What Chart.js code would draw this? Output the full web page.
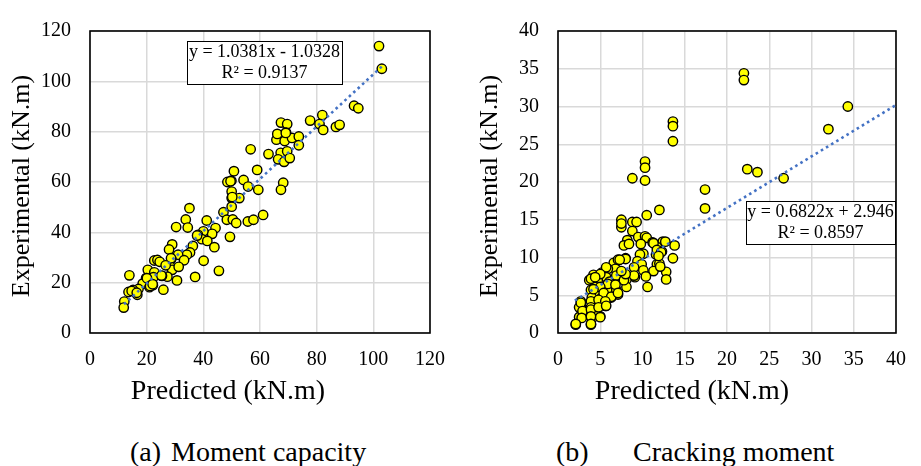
<!DOCTYPE html>
<html><head><meta charset="utf-8">
<script src="https://cdn.jsdelivr.net/npm/chart.js@4.4.1/dist/chart.umd.min.js"></script>
<style>
html,body{margin:0;padding:0;background:#fff;width:921px;height:466px;overflow:hidden;}
canvas{position:absolute;top:0;}
#c1{left:0;}
#c2{left:460px;}
.cap{position:absolute;font-family:"Liberation Serif","DejaVu Serif",serif;font-size:28px;color:#000;line-height:28px;white-space:pre;}
</style></head><body>
<canvas id="c1" width="460" height="420" style="width:460px;height:420px"></canvas>
<canvas id="c2" width="461" height="420" style="width:461px;height:420px"></canvas>
<div class="cap" style="left:130px;top:438px;">(a)</div>
<div class="cap" style="left:171px;top:438px;">Moment capacity</div>
<div class="cap" style="left:556px;top:438px;">(b)</div>
<div class="cap" style="left:633px;top:438px;">Cracking moment</div>
<script>
// ---------- (a) Moment capacity ----------
const momentPredicted = [102.0,103.0,93.2,94.7,77.7,82.0,81.0,82.3,86.8,88.1,67.4,69.6,69.2,66.4,65.8,68.7,71.3,73.7,73.7,56.7,63.0,67.3,69.6,66.4,68.5,70.5,50.8,59.0,48.5,49.9,54.2,55.8,68.2,59.4,50.0,67.4,50.0,52.7,50.0,47.1,35.1,33.8,34.5,30.4,41.2,48.3,50.4,51.6,55.7,57.7,61.1,49.4,44.3,43.1,40.0,38.1,39.5,41.4,43.9,36.3,29.0,27.9,35.3,34.2,31.1,33.2,40.1,45.5,28.7,22.7,23.8,24.6,28.2,29.0,31.3,20.4,22.7,27.3,25.4,30.7,37.1,13.9,19.8,22.4,18.6,22.2,21.0,25.9,17.1,15.2,13.6,14.7,16.7,12.1,11.9,28.6,26.7,25.2,20.1,21.2,22.1,37.8,16.5,49.6,50.2,66.1,69.1];
const momentExperimental = [114.0,105.0,90.3,89.3,84.4,86.6,83.0,80.7,81.9,82.7,83.6,83.0,79.6,78.5,76.8,76.3,77.5,78.1,74.6,73.0,71.1,71.6,72.2,69.0,68.0,69.5,64.3,64.8,60.0,60.5,60.8,58.2,59.7,56.9,56.2,56.9,53.6,53.6,50.2,48.0,49.6,45.1,41.9,42.1,44.7,45.0,45.1,43.7,44.3,45.0,46.9,38.2,41.7,39.4,40.4,39.0,37.3,36.6,34.1,34.6,35.2,33.2,32.0,31.1,31.1,28.9,28.7,24.7,29.4,28.8,29.0,28.3,26.6,25.1,26.3,25.1,24.1,22.4,22.7,20.9,22.3,22.9,21.8,22.2,19.6,19.0,18.2,17.2,17.5,17.1,16.3,16.7,15.2,12.5,10.1,29.7,26.9,22.8,21.8,18.7,19.4,38.7,16.0,60.3,54.0,79.1,79.5];
const momentTrendX = [12.0, 103.0];
const momentTrendY = [11.4, 105.9];
const momentTicks = [0,20,40,60,80,100,120];

// ---------- (b) Cracking moment ----------
const crackPredicted = [22.0,22.0,34.3,32.0,13.6,13.6,13.6,10.3,10.3,8.8,10.3,22.4,23.6,26.7,17.4,17.4,12.0,10.5,7.5,7.5,7.5,8.8,9.3,8.8,9.5,10.3,10.5,11.2,12.4,12.7,13.8,8.2,7.8,8.4,9.8,11.7,12.3,11.6,10.1,9.7,13.6,11.7,12.0,9.4,9.9,8.0,9.0,10.1,11.3,12.8,12.8,10.4,10.6,9.1,8.1,8.1,7.1,6.6,6.8,5.9,5.2,5.7,4.2,3.7,4.7,7.1,6.1,6.7,5.4,4.4,4.6,3.9,5.9,6.9,7.1,6.3,5.7,5.1,4.0,3.9,5.0,5.6,4.6,3.9,2.7,2.7,2.8,3.9,5.0,2.5,2.1,3.9,2.5,3.5,4.4,4.0,8.0,7.1,5.7,5.0,3.9,4.4,6.9,7.8,9.0,5.9,6.8,5.0,4.2,5.4,6.3,7.1,4.8,5.6,2.7,2.9,3.9,4.8,5.7,2.8,3.9,5.0,2.1,3.9,11.3,11.7,12.2,11.9,7.3,8.0,7.5,12.1];
const crackExperimental = [34.4,33.5,30.0,27.0,28.0,27.4,25.4,22.7,21.9,20.5,20.2,21.7,21.3,20.5,19.0,16.5,16.3,15.6,15.0,14.0,14.5,14.7,14.7,13.5,12.7,12.8,12.6,12.0,12.1,12.1,11.6,12.3,11.6,11.8,11.8,11.4,10.8,10.4,10.5,10.4,9.9,9.1,9.2,9.5,9.1,9.9,8.7,8.3,8.2,8.1,7.1,7.5,6.1,7.4,7.1,6.1,9.6,9.3,8.5,8.5,8.0,7.4,7.7,7.0,7.0,7.2,6.8,6.5,6.1,6.1,5.5,5.7,5.5,5.7,5.1,4.7,4.4,4.6,4.7,4.2,4.0,3.6,3.4,3.4,4.2,3.6,2.9,2.3,2.2,2.1,1.1,1.1,3.4,2.7,2.9,1.9,9.8,9.7,8.7,7.8,7.2,7.4,7.6,7.0,7.6,6.5,6.4,6.1,5.8,5.3,4.8,5.3,4.4,4.2,4.0,2.9,3.1,3.4,3.6,2.0,2.2,2.1,1.2,1.2,11.9,11.0,10.7,10.2,9.7,7.8,8.2,8.8];
const crackTrendX = [2.0, 40.0];
const crackTrendY = [4.3, 30.2];
const crackTicks = [0,5,10,15,20,25,30,35,40];

const SERIF = '"Liberation Serif", "DejaVu Serif", serif';

function pts(xs, ys){ return xs.map((x,i)=>({x:x, y:ys[i]})); }

const decor = {
  id: 'decor',
  beforeDatasetsDraw(chart, args, o) {
    const {ctx, chartArea:a} = chart;
    ctx.save();
    ctx.strokeStyle = '#000'; ctx.lineWidth = 1.6;
    ctx.strokeRect(a.left, a.top, a.right - a.left, a.bottom - a.top);
    ctx.restore();
  },
  afterDraw(chart, args, o) {
    const ctx = chart.ctx;
    ctx.save();
    ctx.fillStyle = '#000';
    ctx.textAlign = 'center'; ctx.textBaseline = 'middle';
    ctx.font = o.xTitleFont;
    ctx.fillText(o.xTitle, o.xTitleAt[0], o.xTitleAt[1]);
    ctx.font = o.yTitleFont;
    ctx.translate(o.yTitleAt[0], o.yTitleAt[1]);
    ctx.rotate(-Math.PI/2);
    ctx.fillText(o.yTitle, 0, 0);
    ctx.restore();
    const b = o.eqBox;
    ctx.save();
    ctx.fillStyle = '#fff';
    ctx.fillRect(b[0], b[1], b[2]-b[0], b[3]-b[1]);
    ctx.strokeStyle = '#000'; ctx.lineWidth = 1;
    ctx.strokeRect(b[0]+0.5, b[1]+0.5, b[2]-b[0], b[3]-b[1]);
    ctx.fillStyle = '#000';
    ctx.font = o.eqFont;
    ctx.textAlign = 'center'; ctx.textBaseline = 'middle';
    const cx = (b[0]+b[2])/2;
    ctx.fillText(o.eqLines[0], cx, b[1] + (b[3]-b[1])*0.27);
    ctx.fillText(o.eqLines[1], cx, b[1] + (b[3]-b[1])*0.75);
    ctx.restore();
  }
};

function makeChart(id, cfg) {
  return new Chart(document.getElementById(id), {
    type: 'scatter',
    data: {
      datasets: [
        {
          type: 'line',
          data: pts(cfg.trendX, cfg.trendY),
          borderColor: '#4472C4', borderWidth: 2.6, borderDash: [2.6, 3.4],
          pointRadius: 0, fill: false, tension: 0
        },
        {
          data: pts(cfg.xs, cfg.ys),
          backgroundColor: '#FFFF00', borderColor: '#000', borderWidth: 1.4,
          pointRadius: 4.7, pointHoverRadius: 4.7
        }
      ]
    },
    options: {
      responsive: false, animation: false,
      layout: { padding: { left: 0, top: 19, right: cfg.padRight, bottom: 0 } },
      plugins: {
        legend: { display: false }, tooltip: { enabled: false }, title: { display: false },
        decor: {
          xTitleFont: "28px " + SERIF, yTitleFont: "26px " + SERIF,
          xTitle: 'Predicted (kN.m)', xTitleAt: cfg.xTitleAt,
          yTitle: 'Experimental (kN.m)', yTitleAt: cfg.yTitleAt,
          eqBox: cfg.eqBox, eqLines: cfg.eqLines, eqFont: "18px " + SERIF
        }
      },
      scales: {
        x: {
          type: 'linear', min: cfg.ticks[0], max: cfg.ticks[cfg.ticks.length-1],
          afterBuildTicks: s => { s.ticks = cfg.ticks.map(v => ({value: v})); },
          afterFit: s => { s.height = 87; },
          grid: { color: '#D9D9D9', lineWidth: 1.5, drawTicks: false },
          border: { display: false },
          ticks: { padding: 15, color: '#000', font: { family: SERIF, size: 20 } }
        },
        y: {
          type: 'linear', min: cfg.ticks[0], max: cfg.ticks[cfg.ticks.length-1],
          afterBuildTicks: s => { s.ticks = cfg.yTicks.map(v => ({value: v})); },
          afterFit: s => { s.width = cfg.yWidth; },
          grid: { color: '#D9D9D9', lineWidth: 1.5, drawTicks: false },
          border: { display: false },
          ticks: { padding: 19, color: '#000', font: { family: SERIF, size: 20 } }
        }
      }
    },
    plugins: [decor]
  });
}

makeChart('c1', {
  xs: momentPredicted, ys: momentExperimental,
  trendX: momentTrendX, trendY: momentTrendY,
  ticks: momentTicks, yTicks: momentTicks,
  yWidth: 90, padRight: 21,
  xTitleAt: [228, 392], yTitleAt: [22, 186],
  eqBox: [187, 41, 342, 84],
  eqLines: ['y = 1.0381x - 1.0328', 'R\u00B2 = 0.9137']
});

makeChart('c2', {
  xs: crackPredicted, ys: crackExperimental,
  trendX: crackTrendX, trendY: crackTrendY,
  ticks: crackTicks, yTicks: crackTicks,
  yWidth: 98, padRight: 13,
  xTitleAt: [232, 392], yTitleAt: [30, 186],
  eqBox: [286, 201, 435, 244],
  eqLines: ['y = 0.6822x + 2.946', 'R\u00B2 = 0.8597']
});
</script>
</body></html>
